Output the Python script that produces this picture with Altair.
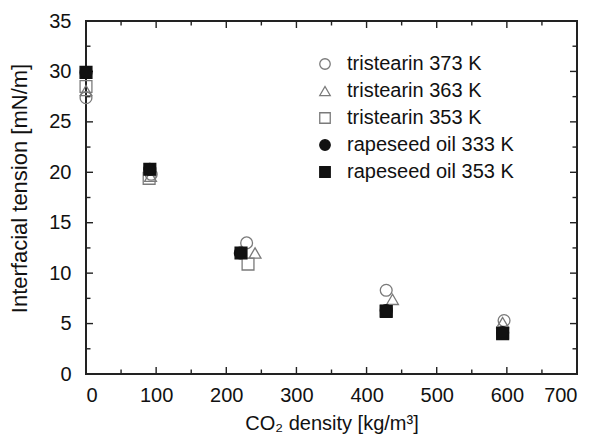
import altair as alt
import pandas as pd

# Interfacial tension of fats/oils against CO2 density
series_names = [
    "tristearin 373 K",
    "tristearin 363 K",
    "tristearin 353 K",
    "rapeseed oil 333 K",
    "rapeseed oil 353 K",
]

ts373_x = [0, 93, 229, 428, 596]
ts373_y = [27.4, 19.8, 13.0, 8.3, 5.3]

ts363_x = [0, 92, 241, 437, 594]
ts363_y = [28.1, 19.6, 12.0, 7.4, 5.1]

ts353_x = [0, 90, 231, 428, 594]
ts353_y = [28.5, 19.4, 10.9, 6.3, 4.1]

rs333_x = [0, 91, 220, 428, 594]
rs333_y = [29.9, 20.3, 12.0, 6.3, 4.1]

rs353_x = [0, 91, 221, 428, 594]
rs353_y = [29.9, 20.3, 12.0, 6.2, 4.0]

shapes = ["circle", "triangle-up", "square", "circle", "square"]
fills = ["transparent", "transparent", "transparent", "#111111", "#111111"]
strokes = ["#7a7a7a", "#7a7a7a", "#7a7a7a", "#111111", "#111111"]

# drawing order: open markers first, filled circles on top of filled squares
draw_order = [0, 1, 2, 4, 3]

x_major = [100, 200, 300, 400, 500, 600]
x_minor = [50, 150, 250, 350, 450, 550, 650]
y_major = [5, 10, 15, 20, 25, 30]
y_minor = [2.5, 7.5, 12.5, 17.5, 22.5, 27.5, 32.5]
x_labels = [0, 100, 200, 300, 400, 500, 600, 700]
y_labels = [0, 5, 10, 15, 20, 25, 30, 35]

all_x = [ts373_x, ts363_x, ts353_x, rs333_x, rs353_x]
all_y = [ts373_y, ts363_y, ts353_y, rs333_y, rs353_y]

rows = []
for i in draw_order:
    for xv, yv in zip(all_x[i], all_y[i]):
        rows.append({"series": series_names[i], "density": xv, "tension": yv})
df = pd.DataFrame(rows)

W, H = 491, 353
FONT = "Liberation Sans"

x_scale = alt.Scale(domain=[0, 700], nice=False, zero=False)
y_scale = alt.Scale(domain=[0, 35], nice=False, zero=False)

points = alt.Chart(df).mark_point(filled=True, opacity=1, size=140, strokeWidth=1.3).encode(
    x=alt.X(
        "density:Q",
        scale=x_scale,
        axis=alt.Axis(
            values=x_labels,
            title="CO₂ density [kg/m³]",
            grid=False,
            domain=False,
            ticks=False,
            labelPadding=11,
            titlePadding=8,
        ),
    ),
    y=alt.Y(
        "tension:Q",
        scale=y_scale,
        axis=alt.Axis(
            values=y_labels,
            title="Interfacial tension [mN/m]",
            titleFontSize=22,
            titleY=167,
            grid=False,
            domain=False,
            ticks=False,
            labelPadding=15,
            titlePadding=17,
        ),
    ),
    shape=alt.Shape("series:N", scale=alt.Scale(domain=series_names, range=shapes), title=None),
    fill=alt.Fill("series:N", scale=alt.Scale(domain=series_names, range=fills), title=None),
    stroke=alt.Stroke("series:N", scale=alt.Scale(domain=series_names, range=strokes), title=None),
)


def tick_layer(values, field, length, side):
    data = pd.DataFrame({field: values})
    base = alt.Chart(data).mark_rule(color="#222222", strokeWidth=1.4)
    if side == "bottom":
        return base.encode(x=alt.X(f"{field}:Q", scale=x_scale), y=alt.value(H), y2=alt.value(H - length))
    if side == "top":
        return base.encode(x=alt.X(f"{field}:Q", scale=x_scale), y=alt.value(0), y2=alt.value(length))
    if side == "left":
        return base.encode(y=alt.Y(f"{field}:Q", scale=y_scale), x=alt.value(0), x2=alt.value(length))
    return base.encode(y=alt.Y(f"{field}:Q", scale=y_scale), x=alt.value(W), x2=alt.value(W - length))


ticks = []
for side in ["bottom", "top"]:
    ticks.append(tick_layer(x_major, "xv", 7, side))
    ticks.append(tick_layer(x_minor, "xv", 4.5, side))
for side in ["left", "right"]:
    ticks.append(tick_layer(y_major, "yv", 7, side))
    ticks.append(tick_layer(y_minor, "yv", 4.5, side))

chart = (
    alt.layer(*ticks, points)
    .properties(
        width=W,
        height=H,
        autosize=alt.AutoSizeParams(type="none"),
        padding={"left": 86, "top": 21, "right": 18, "bottom": 66},
        background="white",
    )
    .configure_view(stroke="#222222", strokeWidth=2)
    .configure_axis(
        labelFont=FONT,
        titleFont=FONT,
        labelFontSize=20,
        titleFontSize=20,
        labelColor="#111111",
        titleColor="#111111",
        titleFontWeight="normal",
    )
    .configure_legend(
        orient="none",
        legendX=229,
        legendY=33,
        padding=0,
        labelFont=FONT,
        labelFontSize=20,
        labelColor="#111111",
        labelLimit=400,
        labelOffset=12,
        symbolSize=110,
        symbolStrokeWidth=1.3,
        rowPadding=7,
        symbolType="circle",
    )
)

chart.save("out.html", embed_options={"renderer": "svg", "actions": False})
